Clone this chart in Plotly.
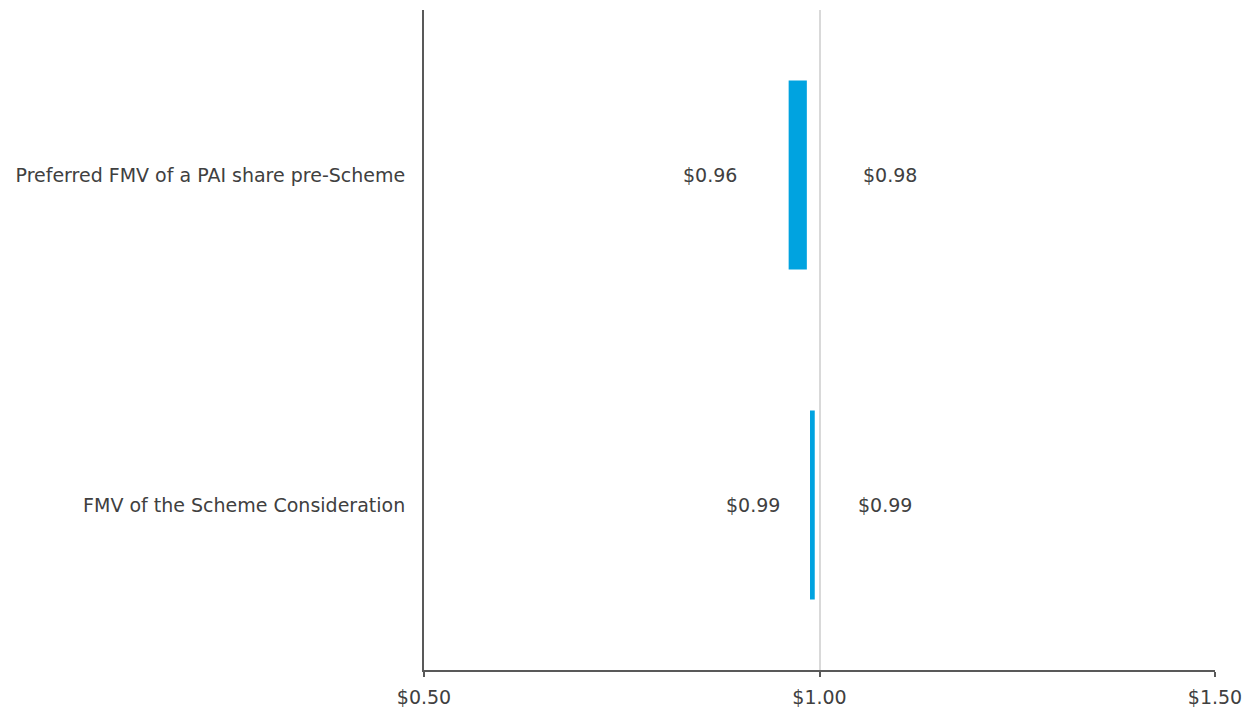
import plotly.graph_objects as go

categories = ["Preferred FMV of a PAI share pre-Scheme", "FMV of the Scheme Consideration"]
low_values = [0.961, 0.988]
high_values = [0.984, 0.994]
low_labels = ["$0.96", "$0.99"]
high_labels = ["$0.98", "$0.99"]
tick_vals = [0.5, 1.0, 1.5]
tick_text = ["$0.50", "$1.00", "$1.50"]

low_shift = [-50, -28]
high_shift = [54, 41]

FONT = "DejaVu Sans"
FS = 19
TXT = "#404040"
BAR = "#00A3E0"

fig = go.Figure()
fig.add_trace(go.Bar(
    y=categories,
    x=[h - l for h, l in zip(high_values, low_values)],
    base=low_values,
    orientation="h",
    marker=dict(color=BAR, line=dict(width=0)),
    hoverinfo="skip",
    showlegend=False,
))

for c, l, h, ll, hl, ls, hs in zip(categories, low_values, high_values, low_labels, high_labels, low_shift, high_shift):
    fig.add_annotation(x=l, y=c, text=ll, showarrow=False, xanchor="right", xshift=ls,
                       font=dict(family=FONT, size=FS, color=TXT))
    fig.add_annotation(x=h, y=c, text=hl, showarrow=False, xanchor="left", xshift=hs,
                       font=dict(family=FONT, size=FS, color=TXT))

fig.update_layout(
    width=1252, height=709,
    margin=dict(l=424, r=37, t=10, b=39),
    paper_bgcolor="white", plot_bgcolor="white",
    bargap=0.427,
    font=dict(family=FONT, size=FS, color=TXT),
    xaxis=dict(range=[0.5, 1.5], tickvals=tick_vals, ticktext=tick_text,
               showgrid=True, gridcolor="#d9d9d9", gridwidth=2,
               showline=True, linecolor="#595959", linewidth=2,
               ticks="outside", ticklen=5, tickcolor="#595959", tickwidth=2,
               ticklabelstandoff=4, automargin=False,
               zeroline=False, tickfont=dict(family=FONT, size=FS, color=TXT), fixedrange=True),
    yaxis=dict(categoryorder="array", categoryarray=categories[::-1],
               showline=True, linecolor="#595959", linewidth=2, automargin=False,
               showgrid=False, zeroline=False, ticks="", ticklabelstandoff=13,
               tickfont=dict(family=FONT, size=FS, color=TXT), fixedrange=True),
)

fig.write_html("out.html", config={"displayModeBar": False})
